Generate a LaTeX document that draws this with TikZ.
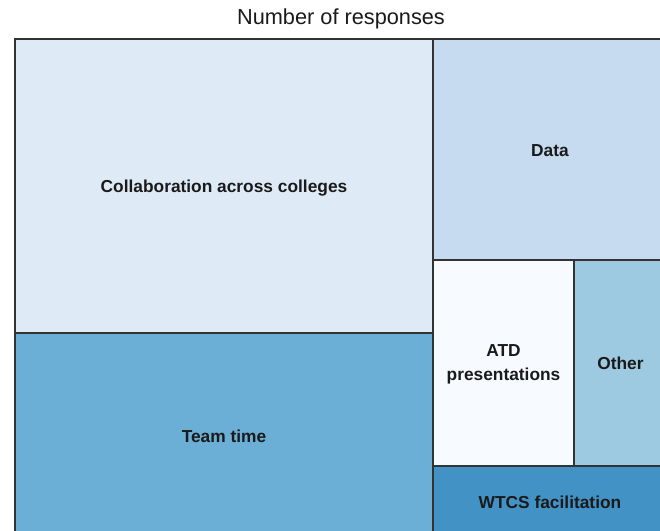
\documentclass[tikz,border=0pt]{standalone}
\usepackage{fontspec}
\setmainfont{Liberation Sans}
\usepackage{xcolor}

\definecolor{blueA}{HTML}{F7FBFF}
\definecolor{blueB}{HTML}{DEEBF7}
\definecolor{blueC}{HTML}{C6DBEF}
\definecolor{blueD}{HTML}{9ECAE1}
\definecolor{blueE}{HTML}{6BAED6}
\definecolor{blueF}{HTML}{4292C6}
\definecolor{edge}{HTML}{333333}
\definecolor{ink}{HTML}{1A1A1A}

\tikzset{
  cell/.style={draw=edge, line width=1.4pt},
  lbl/.style={text=ink, font=\fontsize{13}{18.5}\selectfont\bfseries, align=center},
}

\begin{document}
\begin{tikzpicture}[x=0.75pt, y=-0.75pt]
\useasboundingbox (0,0) rectangle (660,531);
\clip (0,0) rectangle (660,531);

\node[text=ink, font=\fontsize{16.3}{18}\selectfont] (title) at (341,19) {Number of responses};

% left column
\draw[cell, fill=blueB] (15,39) rectangle (433,333) node[lbl, midway, yshift=-1.5pt] (collab) {Collaboration across colleges};
\draw[cell, fill=blueE] (15,333) rectangle (433,539) node[lbl, midway] (team) {Team time};

% right column
\draw[cell, fill=blueC] (433,39) rectangle (667,260) node[lbl, midway, yshift=-1pt] (data) {Data};
\draw[cell, fill=blueA] (433,260) rectangle (574,466) node[lbl, midway, yshift=-1pt] (atd) {ATD\\presentations};
\draw[cell, fill=blueD] (574,260) rectangle (667,466) node[lbl, midway] (other) {Other};
\draw[cell, fill=blueF] (433,466) rectangle (667,539) node[lbl, midway] (wtcs) {WTCS facilitation};
\end{tikzpicture}
\end{document}
